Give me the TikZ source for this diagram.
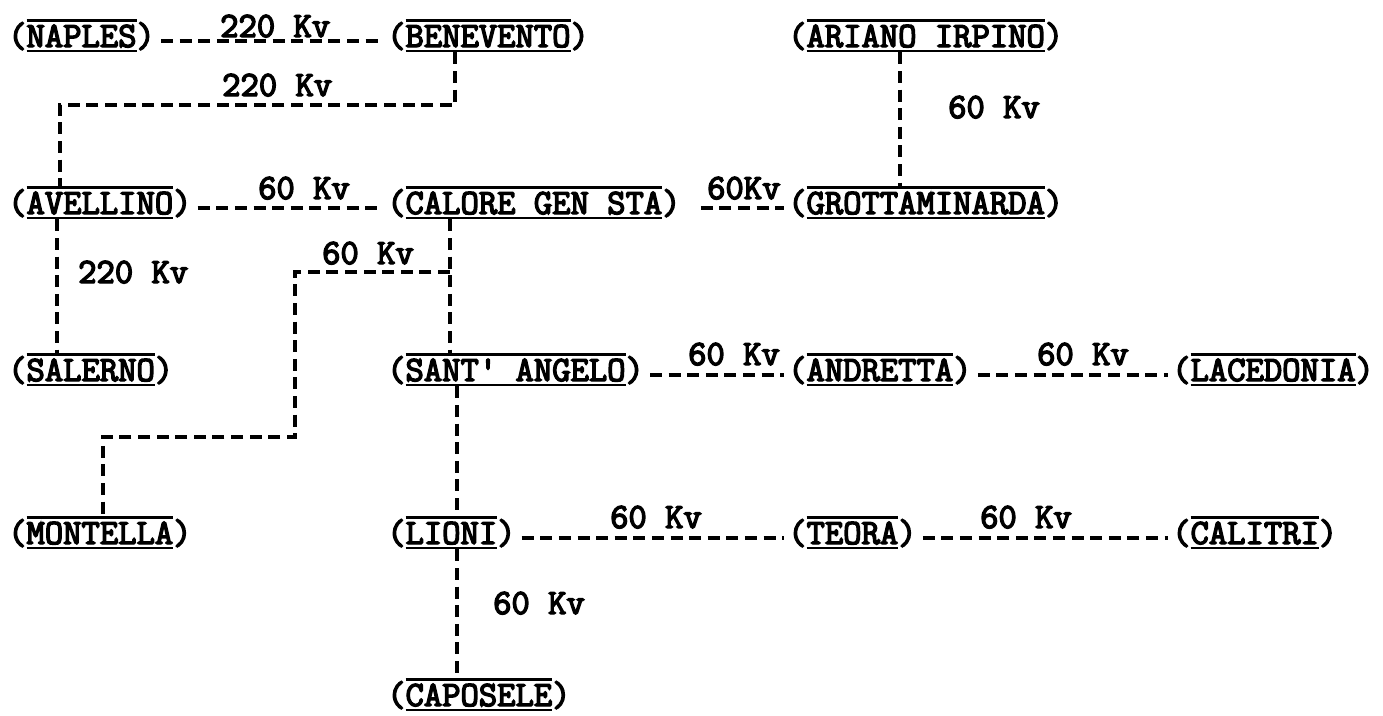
\documentclass[tikz,border=0pt]{standalone}
\usepackage{fontspec}
\newfontfamily\tw{Latin Modern Mono}[FakeBold=4, Ligatures=TeXOff]
\usetikzlibrary{calc}
\newsavebox\oubox
\newcommand\ou[1]{\sbox\oubox{#1}\rlap{\raisebox{25pt}{\rule{\wd\oubox}{2.8pt}}}\rlap{\raisebox{-5.4pt}{\rule{\wd\oubox}{2.8pt}}}\usebox\oubox}
\newcommand\pl[1]{(\ou{#1})}
\tikzset{
  tw/.style={font=\fontsize{35.6pt}{38pt}\selectfont\tw},
  place/.style={tw, anchor=base west, inner sep=0pt},
  lab/.style={tw, anchor=base west, inner sep=0pt},
  conn/.style={line width=3.2pt, dash pattern=on 12pt off 6.6pt},
}
\begin{document}
\begin{tikzpicture}[x=1pt, y=-1pt]
\useasboundingbox (0,0) rectangle (1383,715);
% places
\node[place] (naples)   at (8,47)    {\pl{NAPLES}};
\node[place] (bene)     at (387,47)  {\pl{BENEVENTO}};
\node[place] (ariano)   at (788,47)  {\pl{ARIANO IRPINO}};
\node[place] (avel)     at (8,214)   {\pl{AVELLINO}};
\node[place] (calore)   at (387,214) {\pl{CALORE GEN STA}};
\node[place] (grotta)   at (788,214) {\pl{GROTTAMINARDA}};
\node[place] (salerno)  at (8,381)   {\pl{SALERNO}};
\node[place] (sant)     at (387,381) {\pl{SANT' ANGELO}};
\node[place] (andretta) at (788,381) {\pl{ANDRETTA}};
\node[place] (lace)     at (1172,381){\pl{LACEDONIA}};
\node[place] (montella) at (8,544)   {\pl{MONTELLA}};
\node[place] (lioni)    at (387,544) {\pl{LIONI}};
\node[place] (teora)    at (788,544) {\pl{TEORA}};
\node[place] (calitri)  at (1172,544){\pl{CALITRI}};
\node[place] (caposele) at (387,706) {\pl{CAPOSELE}};
% labels
\node[lab] (l1)  at (220,37)  {220 Kv};
\node[lab] (l2)  at (222,96)  {220 Kv};
\node[lab] (l3)  at (258,199) {60 Kv};
\node[lab] (l4)  at (707,199) {60Kv};
\node[lab] (l5)  at (948,118) {60 Kv};
\node[lab] (l6)  at (78,283)  {220 Kv};
\node[lab] (l7)  at (322,264) {60 Kv};
\node[lab] (l8)  at (688,365) {60 Kv};
\node[lab] (l9)  at (1037,365){60 Kv};
\node[lab] (l10) at (610,528) {60 Kv};
\node[lab] (l11) at (980,528) {60 Kv};
\node[lab] (l12) at (493,614) {60 Kv};
% horizontal connectors
\draw[conn] ($(naples.base east)+(6,-6)$) -- ($(bene.base west)+(-4,-6)$);
\draw[conn] ($(avel.base east)+(6,-6)$) -- ($(calore.base west)+(-4,-6)$);
\draw[conn] ($(calore.base east)+(20,-6)$) -- ($(grotta.base west)+(-4,-6)$);
\draw[conn] ($(sant.base east)+(6,-6)$) -- ($(andretta.base west)+(-4,-6)$);
\draw[conn] ($(andretta.base east)+(6,-6)$) -- ($(lace.base west)+(-4,-6)$);
\draw[conn] ($(lioni.base east)+(6,-6)$) -- ($(teora.base west)+(-4,-6)$);
\draw[conn] ($(teora.base east)+(6,-6)$) -- ($(calitri.base west)+(-4,-6)$);
% vertical / stepped connectors
\coordinate (k1) at (60,105);
\draw[conn] ($(bene.base west)+(68,5.4)$) |- (k1) -- ($(avel.base west)+(52,-27.8)$);
\draw[conn] ($(ariano.base west)+(112,5.4)$) -- ($(grotta.base west)+(112,-27.8)$);
\draw[conn] ($(avel.base west)+(49,5.4)$) -- ($(salerno.base west)+(49,-27.8)$);
\draw[conn] ($(calore.base west)+(63,5.4)$) -- ($(sant.base west)+(63,-27.8)$);
\coordinate (k2) at (450,272);
\coordinate (k3) at (295,272);
\coordinate (k4) at (295,437);
\coordinate (k5) at (103,437);
\draw[conn] (k2) -- (k3) -- (k4) -- (k5) -- ($(montella.base west)+(95,-27.8)$);
\draw[conn] ($(sant.base west)+(70,5.4)$) -- ($(lioni.base west)+(70,-27.8)$);
\draw[conn] ($(lioni.base west)+(70,5.4)$) -- ($(caposele.base west)+(70,-27.8)$);
\end{tikzpicture}
\end{document}
